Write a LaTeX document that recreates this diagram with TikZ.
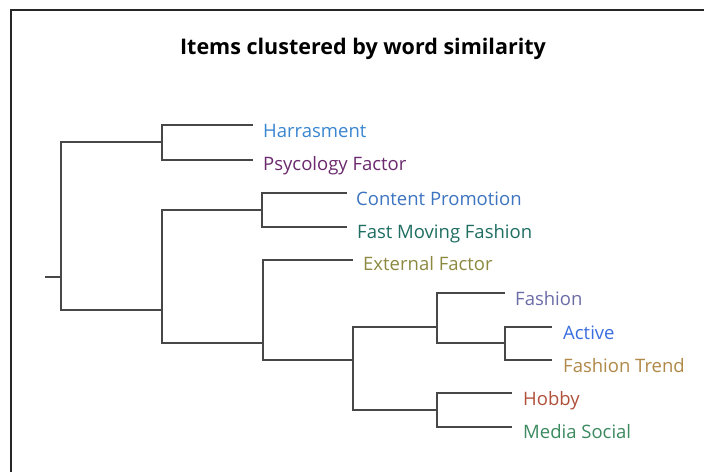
\documentclass[tikz,border=0pt]{standalone}
\usepackage{fontspec}
\setmainfont{Open Sans}
\begin{document}
\begin{tikzpicture}[x=1pt,y=-1pt,
  link/.style={draw=black!72,line width=2pt},
  frameline/.style={draw=black!85,line width=2pt},
  lbl/.style={anchor=base west,inner sep=0pt,font=\fontsize{18.5}{20}\selectfont},
  ttl/.style={anchor=base,inner sep=0pt,font=\fontsize{21.5}{24}\selectfont\bfseries}]
\definecolor{cHar}{HTML}{3A86D0}
\definecolor{cPsy}{HTML}{6B2A6E}
\definecolor{cCon}{HTML}{3D74C0}
\definecolor{cFast}{HTML}{1F6E62}
\definecolor{cExt}{HTML}{8C8A40}
\definecolor{cFash}{HTML}{6C6CA8}
\definecolor{cAct}{HTML}{3A6EE0}
\definecolor{cTrend}{HTML}{B08848}
\definecolor{cHob}{HTML}{B0503A}
\definecolor{cMed}{HTML}{3C8A60}
\useasboundingbox (0,0) rectangle (704,472);
\fill[white] (0,0) rectangle (704,472);
\coordinate (fA) at (11,472);
\coordinate (fB) at (11,10);
\coordinate (fC) at (704,10);
\draw[frameline] (fA) -- (fB) -- (fC);
\node[ttl] (title) at (363,54) {Items clustered by word similarity};
% junctions
\coordinate (stub) at (45,277);
\coordinate (r) at (61,277);
\coordinate (c1) at (162,142);
\coordinate (c2) at (162,310);
\coordinate (c3) at (262,210);
\coordinate (c4) at (263,343);
\coordinate (c5) at (353,360);
\coordinate (c6) at (437,327);
\coordinate (c7) at (505,343);
\coordinate (c8) at (437,410);
% leaf ends
\coordinate (lHar) at (253,125);
\coordinate (lPsy) at (253,160);
\coordinate (lCon) at (347,193);
\coordinate (lFast) at (347,227);
\coordinate (lExt) at (353,260);
\coordinate (lFash) at (505,293);
\coordinate (lAct) at (552,327);
\coordinate (lTrend) at (552,360);
\coordinate (lHob) at (512,393);
\coordinate (lMed) at (512,427);
% labels
\node[lbl,text=cHar] (tHar) at (263,137) {Harrasment};
\node[lbl,text=cPsy] (tPsy) at (263,170) {Psycology Factor};
\node[lbl,text=cCon] (tCon) at (356,205) {Content Promotion};
\node[lbl,text=cFast] (tFast) at (357,238) {Fast Moving Fashion};
\node[lbl,text=cExt] (tExt) at (363,270) {External Factor};
\node[lbl,text=cFash] (tFash) at (515,305) {Fashion};
\node[lbl,text=cAct] (tAct) at (563,339) {Active};
\node[lbl,text=cTrend] (tTrend) at (563,372) {Fashion Trend};
\node[lbl,text=cHob] (tHob) at (523,405) {Hobby};
\node[lbl,text=cMed] (tMed) at (523,438) {Media Social};
% tree
\draw[link] (stub) -- (r);
\draw[link] (c1) -| (r) |- (c2);
\draw[link] (lHar) -| (c1) |- (lPsy);
\draw[link] (c3) -| (c2) |- (c4);
\draw[link] (lCon) -| (c3) |- (lFast);
\draw[link] (lExt) -| (c4) |- (c5);
\draw[link] (c6) -| (c5) |- (c8);
\draw[link] (lFash) -| (c6) |- (c7);
\draw[link] (lAct) -| (c7) |- (lTrend);
\draw[link] (lHob) -| (c8) |- (lMed);
\end{tikzpicture}
\end{document}
